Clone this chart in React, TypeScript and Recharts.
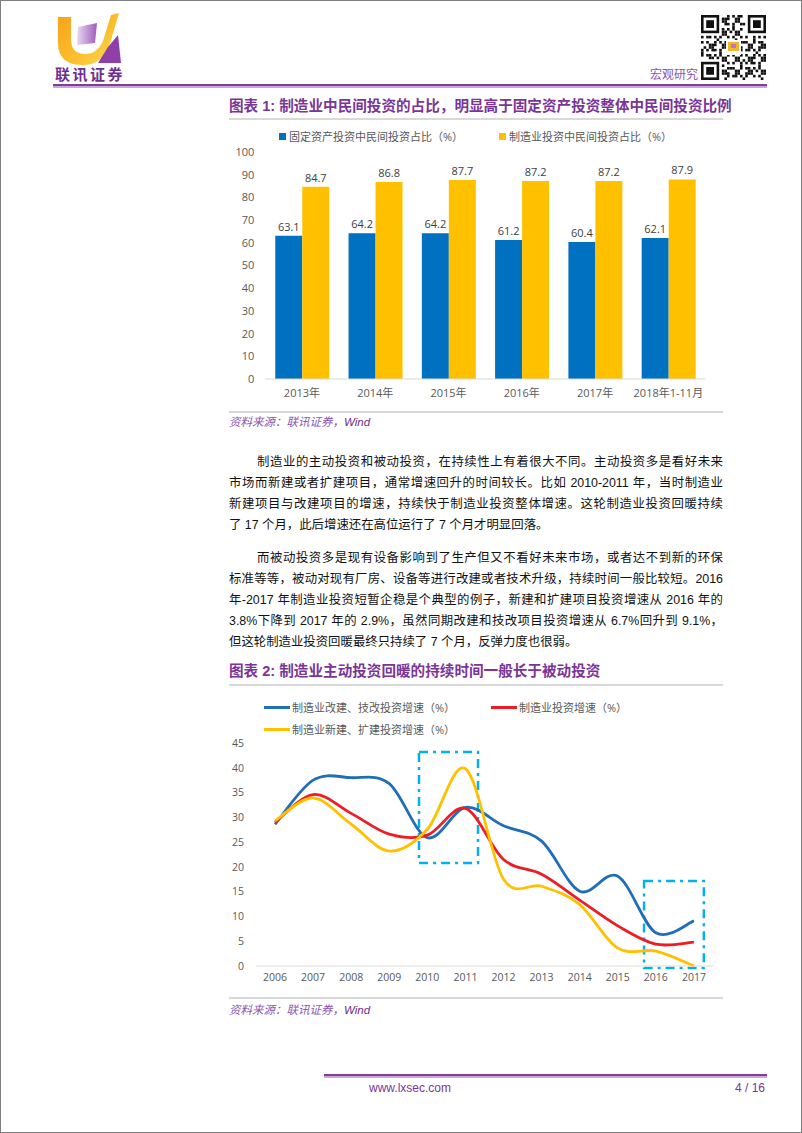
import React from "react"
import { BarChart, Bar, XAxis, YAxis, LabelList, LineChart, Line, ReferenceArea } from "recharts"

// 图表 1
const barYears = ["2013年", "2014年", "2015年", "2016年", "2017年", "2018年1-11月"]
const fixedAssetShare = [63.1, 64.2, 64.2, 61.2, 60.4, 62.1]
const manufacturingShare = [84.7, 86.8, 87.7, 87.2, 87.2, 87.9]
const barTicks = [0, 10, 20, 30, 40, 50, 60, 70, 80, 90, 100]
const barSeries = [
  { key: "fixed", name: "固定资产投资中民间投资占比（%）", color: "#0070C0" },
  { key: "mfg", name: "制造业投资中民间投资占比（%）", color: "#FFC000" },
]

// 图表 2
const lineYears = [2006, 2007, 2008, 2009, 2010, 2011, 2012, 2013, 2014, 2015, 2016, 2017]
const renovationGrowth = [28.6, 37.5, 38.0, 36.8, 25.9, 32.0, 28.3, 25.2, 15.1, 18.1, 6.7, 9.1]
const totalGrowth = [29.0, 34.6, 30.8, 26.6, 26.4, 31.8, 21.5, 18.5, 13.3, 8.1, 4.4, 4.8]
const newBuildGrowth = [29.3, 33.9, 28.6, 23.2, 27.6, 39.8, 17.5, 16.1, 12.4, 3.6, 3.0, 0]
const lineTicks = [0, 5, 10, 15, 20, 25, 30, 35, 40, 45]
const lineSeries = [
  { key: "renovation", name: "制造业改建、技改投资增速（%）", color: "#1F6EB7" },
  { key: "total", name: "制造业投资增速（%）", color: "#EE1C25" },
  { key: "newBuild", name: "制造业新建、扩建投资增速（%）", color: "#FFC000" },
]
// highlighted periods (x from/to in years, y from/to in %)
const highlightBoxes = [
  { x1: 2009.78, x2: 2011.33, y1: 20.8, y2: 43.2 },
  { x1: 2015.69, x2: 2017.26, y1: -0.4, y2: 17.15 },
]

const para1 = [
  "制造业的主动投资和被动投资，在持续性上有着很大不同。主动投资多是看好未来",
  "市场而新建或者扩建项目，通常增速回升的时间较长。比如 2010-2011 年，当时制造业",
  "新建项目与改建项目的增速，持续快于制造业投资整体增速。这轮制造业投资回暖持续",
  "了 17 个月，此后增速还在高位运行了 7 个月才明显回落。",
]
const para2 = [
  "而被动投资多是现有设备影响到了生产但又不看好未来市场，或者达不到新的环保",
  "标准等等，被动对现有厂房、设备等进行改建或者技术升级，持续时间一般比较短。2016",
  "年-2017 年制造业投资短暂企稳是个典型的例子，新建和扩建项目投资增速从 2016 年的",
  "3.8%下降到 2017 年的 2.9%，虽然同期改建和技改项目投资增速从 6.7%回升到 9.1%，",
  "但这轮制造业投资回暖最终只持续了 7 个月，反弹力度也很弱。",
]

const barData = barYears.map((year, i) => ({
  year,
  fixed: fixedAssetShare[i],
  mfg: manufacturingShare[i],
}))

const lineData = lineYears.map((year, i) => ({
  year,
  renovation: renovationGrowth[i],
  total: totalGrowth[i],
  newBuild: newBuildGrowth[i],
}))

// Excel style smoothed line (Catmull-Rom)
const excelSmooth = (context: any) => {
  let pts: number[][] = []
  return {
    areaStart() {},
    areaEnd() {},
    lineStart() {
      pts = []
    },
    point(x: number, y: number) {
      pts.push([+x, +y])
    },
    lineEnd() {
      const n = pts.length
      if (n === 0) return
      context.moveTo(pts[0][0], pts[0][1])
      for (let i = 0; i < n - 1; i++) {
        const p0 = pts[Math.max(i - 1, 0)]
        const p1 = pts[i]
        const p2 = pts[i + 1]
        const p3 = pts[Math.min(i + 2, n - 1)]
        context.bezierCurveTo(
          p1[0] + (p2[0] - p0[0]) / 6,
          p1[1] + (p2[1] - p0[1]) / 6,
          p2[0] - (p3[0] - p1[0]) / 6,
          p2[1] - (p3[1] - p1[1]) / 6,
          p2[0],
          p2[1]
        )
      }
    },
  }
}

const PURPLE = "#7A3597"
const CHART_FONT = "'Open Sans', 'Noto Sans CJK SC', sans-serif"
const TEXT_FONT = "'Liberation Sans', 'Noto Sans CJK SC', sans-serif"

function Logo() {
  return (
    <svg width={80} height={62} style={{ position: "absolute", left: 50, top: 8 }}>
      <defs>
        <linearGradient id="goldGrad" x1="0" y1="0" x2="1" y2="1">
          <stop offset="0%" stopColor="#F7A21B" />
          <stop offset="60%" stopColor="#FBC02D" />
          <stop offset="100%" stopColor="#FFE066" />
        </linearGradient>
        <linearGradient id="lilacGrad" x1="0" y1="0" x2="1" y2="0">
          <stop offset="0%" stopColor="#E9D8F2" />
          <stop offset="100%" stopColor="#9C5DB8" />
        </linearGradient>
      </defs>
      <path
        d="M7 8 L20 8 L20 30 Q20 45 34 45 Q46 45 52 32 L60 6 L68 4 L58 38 Q50 56 32 56 Q7 56 7 34 Z"
        fill="url(#goldGrad)"
      />
      <path d="M27 18 L46 14 L44 34 L26 36 Z" fill="url(#lilacGrad)" />
      <path d="M57 38 L67 26 L70 54 L47 54 Z" fill="#8E3FA8" />
    </svg>
  )
}

function QrCode() {
  const n = 25
  const cell = 2.6
  const cells: React.ReactNode[] = []
  const inFinder = (r: number, c: number) =>
    (r < 8 && c < 8) || (r < 8 && c >= n - 8) || (r >= n - 8 && c < 8)
  for (let r = 0; r < n; r++) {
    for (let c = 0; c < n; c++) {
      if (inFinder(r, c)) continue
      const on = ((r * 7 + c * 13 + r * c * 3) % 5) < 2 || ((r + c * 2) % 7 === 0)
      if (on) cells.push(<rect key={r + "-" + c} x={c * cell} y={r * cell} width={cell} height={cell} fill="#111" />)
    }
  }
  const finder = (x: number, y: number) => (
    <g key={x + "f" + y}>
      <rect x={x} y={y} width={7 * cell} height={7 * cell} fill="#111" />
      <rect x={x + cell} y={y + cell} width={5 * cell} height={5 * cell} fill="#fff" />
      <rect x={x + 2 * cell} y={y + 2 * cell} width={3 * cell} height={3 * cell} fill="#111" />
    </g>
  )
  return (
    <svg width={n * cell} height={n * cell} style={{ position: "absolute", left: 700, top: 14 }}>
      {cells}
      {finder(0, 0)}
      {finder((n - 7) * cell, 0)}
      {finder(0, (n - 7) * cell)}
      <rect x={25} y={25} width={15} height={15} fill="#fff" />
      <rect x={27} y={27} width={11} height={9} fill="#F6B32B" />
      <rect x={30} y={29} width={5} height={4} fill="#B07CC8" />
    </svg>
  )
}

function TextLine({ text, cy, indent, justify }: { text: string; cy: number; indent: boolean; justify: boolean }) {
  return (
    <div
      style={{
        position: "absolute",
        left: 228,
        top: cy - 10.5,
        width: 494,
        height: 21,
        lineHeight: "21px",
        fontSize: 12.4,
        color: "#111",
        fontFamily: TEXT_FONT,
        whiteSpace: "nowrap",
        textAlign: justify ? "justify" : "left",
        textAlignLast: justify ? "justify" : "left",
        textIndent: indent ? 28 : 0,
      }}
    >
      {text}
    </div>
  )
}

function Source({ cy }: { cy: number }) {
  return (
    <div
      style={{
        position: "absolute",
        left: 228,
        top: cy - 8,
        height: 16,
        lineHeight: "16px",
        fontSize: 11.5,
        fontStyle: "italic",
        color: "#8A55B0",
        fontFamily: TEXT_FONT,
      }}
    >
      资料来源：联讯证券，<span style={{ color: "#6B2C91" }}>Wind</span>
    </div>
  )
}

function Title({ text, cy }: { text: string; cy: number }) {
  return (
    <div
      style={{
        position: "absolute",
        left: 228,
        top: cy - 10,
        height: 20,
        lineHeight: "20px",
        fontSize: 14.6,
        fontWeight: "bold",
        color: PURPLE,
        fontFamily: TEXT_FONT,
        whiteSpace: "nowrap",
      }}
    >
      {text}
    </div>
  )
}

function Rule({ top, left, width, height, color }: { top: number; left: number; width: number; height: number; color: string }) {
  return <div style={{ position: "absolute", left, top, width, height, background: color }} />
}

export default function App() {
  const legendText = { fontSize: 11, color: "#595959", fontFamily: CHART_FONT, whiteSpace: "nowrap" as const }
  return (
    <div
      style={{
        position: "absolute",
        left: 0,
        top: 0,
        width: 802,
        height: 1133,
        boxSizing: "border-box",
        border: "1px solid #808080",
        background: "#fff",
        overflow: "hidden",
      }}
    >
      {/* header */}
      <Logo />
      <div
        style={{
          position: "absolute",
          left: 54,
          top: 64,
          fontSize: 15,
          fontWeight: "bold",
          letterSpacing: 2.5,
          color: "#6E2E8E",
          fontFamily: "'Noto Sans CJK SC', sans-serif",
          lineHeight: "18px",
        }}
      >
        联讯证券
      </div>
      <div
        style={{
          position: "absolute",
          left: 649,
          top: 65,
          fontSize: 12,
          color: "#8A55B0",
          fontFamily: "'Noto Sans CJK SC', sans-serif",
          lineHeight: "16px",
        }}
      >
        宏观研究
      </div>
      <QrCode />
      <Rule left={52} top={83} width={714} height={2} color="#7F3F98" />
      <Rule left={52} top={85} width={714} height={2} color="#CBA6DA" />

      {/* chart 1 */}
      <Title text="图表 1: 制造业中民间投资的占比，明显高于固定资产投资整体中民间投资比例" cy={105} />
      <Rule left={228} top={117} width={494} height={2} color="#D9D9D9" />
      {barSeries.map((s, i) => (
        <div key={s.key} style={{ position: "absolute", left: i === 0 ? 278 : 498, top: 127, height: 16, display: "flex", alignItems: "center" }}>
          <div style={{ width: 7, height: 7, background: s.color, marginRight: 3 }} />
          <span style={legendText}>{s.name}</span>
        </div>
      ))}
      <div style={{ position: "absolute", left: 220, top: 140 }}>
        <BarChart
          width={500}
          height={270}
          data={barData}
          margin={{ top: 11, right: 16, bottom: 0, left: 0 }}
          barCategoryGap="13.6%"
          barGap={0}
          style={{ fontFamily: CHART_FONT }}
        >
          <XAxis
            dataKey="year"
            height={32}
            interval={0}
            tickLine={false}
            tickMargin={4}
            axisLine={{ stroke: "#D9D9D9" }}
            tick={{ fontSize: 11, fill: "#595959" }}
          />
          <YAxis
            width={44.3}
            domain={[0, 100]}
            ticks={barTicks}
            axisLine={false}
            tickLine={false}
            tickMargin={5}
            tick={{ fontSize: 11, fill: "#595959" }}
          />
          {barSeries.map((s) => (
            <Bar key={s.key} dataKey={s.key} name={s.name} fill={s.color} isAnimationActive={false}>
              <LabelList dataKey={s.key} position="top" offset={5} fill="#404040" fontSize={11} />
            </Bar>
          ))}
        </BarChart>
      </div>
      <Rule left={228} top={410} width={494} height={2} color="#D9D9D9" />
      <Source cy={421} />

      {/* body text */}
      {para1.map((t, i) => (
        <TextLine key={"a" + i} text={t} cy={461 + i * 21} indent={i === 0} justify={i < para1.length - 1} />
      ))}
      {para2.map((t, i) => (
        <TextLine key={"b" + i} text={t} cy={557 + i * 21} indent={i === 0} justify={i < para2.length - 1} />
      ))}

      {/* chart 2 */}
      <Title text="图表 2: 制造业主动投资回暖的持续时间一般长于被动投资" cy={670} />
      <Rule left={228} top={683} width={494} height={2} color="#D9D9D9" />
      {lineSeries.map((s, i) => (
        <div
          key={s.key}
          style={{
            position: "absolute",
            left: i === 1 ? 490 : 263,
            top: i === 2 ? 720 : 698,
            height: 16,
            display: "flex",
            alignItems: "center",
          }}
        >
          <div style={{ width: 26, height: 3, background: s.color, marginRight: 2 }} />
          <span style={legendText}>{s.name}</span>
        </div>
      ))}
      <div style={{ position: "absolute", left: 220, top: 735 }}>
        <LineChart
          width={500}
          height={255}
          data={lineData}
          margin={{ top: 7, right: 8, bottom: 0, left: 0 }}
          style={{ fontFamily: CHART_FONT }}
        >
          <XAxis
            dataKey="year"
            type="number"
            domain={[2005.5, 2017.5]}
            ticks={lineYears}
            height={25}
            tickLine={false}
            axisLine={{ stroke: "#D9D9D9" }}
            tick={{ fontSize: 10.5, fill: "#595959" }}
          />
          <YAxis
            width={35}
            domain={[0, 45]}
            ticks={lineTicks}
            axisLine={false}
            tickLine={false}
            tickMargin={6}
            tick={{ fontSize: 10.5, fill: "#595959" }}
          />
          {lineSeries.map((s) => (
            <Line
              key={s.key}
              dataKey={s.key}
              name={s.name}
              type={excelSmooth as any}
              stroke={s.color}
              strokeWidth={2.8}
              dot={false}
              activeDot={false}
              isAnimationActive={false}
            />
          ))}
          {highlightBoxes.map((b, i) => (
            <ReferenceArea
              key={i}
              x1={b.x1}
              x2={b.x2}
              y1={b.y1}
              y2={b.y2}
              ifOverflow="visible"
              fill="none"
              fillOpacity={0}
              stroke="#00B0F0"
              strokeWidth={2.5}
              strokeDasharray="9 5 3 5"
            />
          ))}
        </LineChart>
      </div>
      <Rule left={228} top={996} width={494} height={2} color="#D9D9D9" />
      <Source cy={1009} />

      {/* footer */}
      <Rule left={323} top={1073} width={443} height={2} color="#7F3F98" />
      <Rule left={323} top={1075} width={443} height={2} color="#CBA6DA" />
      <div
        style={{
          position: "absolute",
          left: 368,
          top: 1080,
          fontSize: 12,
          color: "#7A3597",
          fontFamily: "'Liberation Sans Narrow', 'Liberation Sans', sans-serif",
          lineHeight: "14px",
        }}
      >
        www.lxsec.com
      </div>
      <div
        style={{
          position: "absolute",
          left: 700,
          width: 64,
          textAlign: "right",
          top: 1080,
          fontSize: 12,
          color: "#7A3597",
          fontFamily: "'Liberation Sans Narrow', 'Liberation Sans', sans-serif",
          lineHeight: "14px",
        }}
      >
        4 / 16
      </div>
    </div>
  )
}
